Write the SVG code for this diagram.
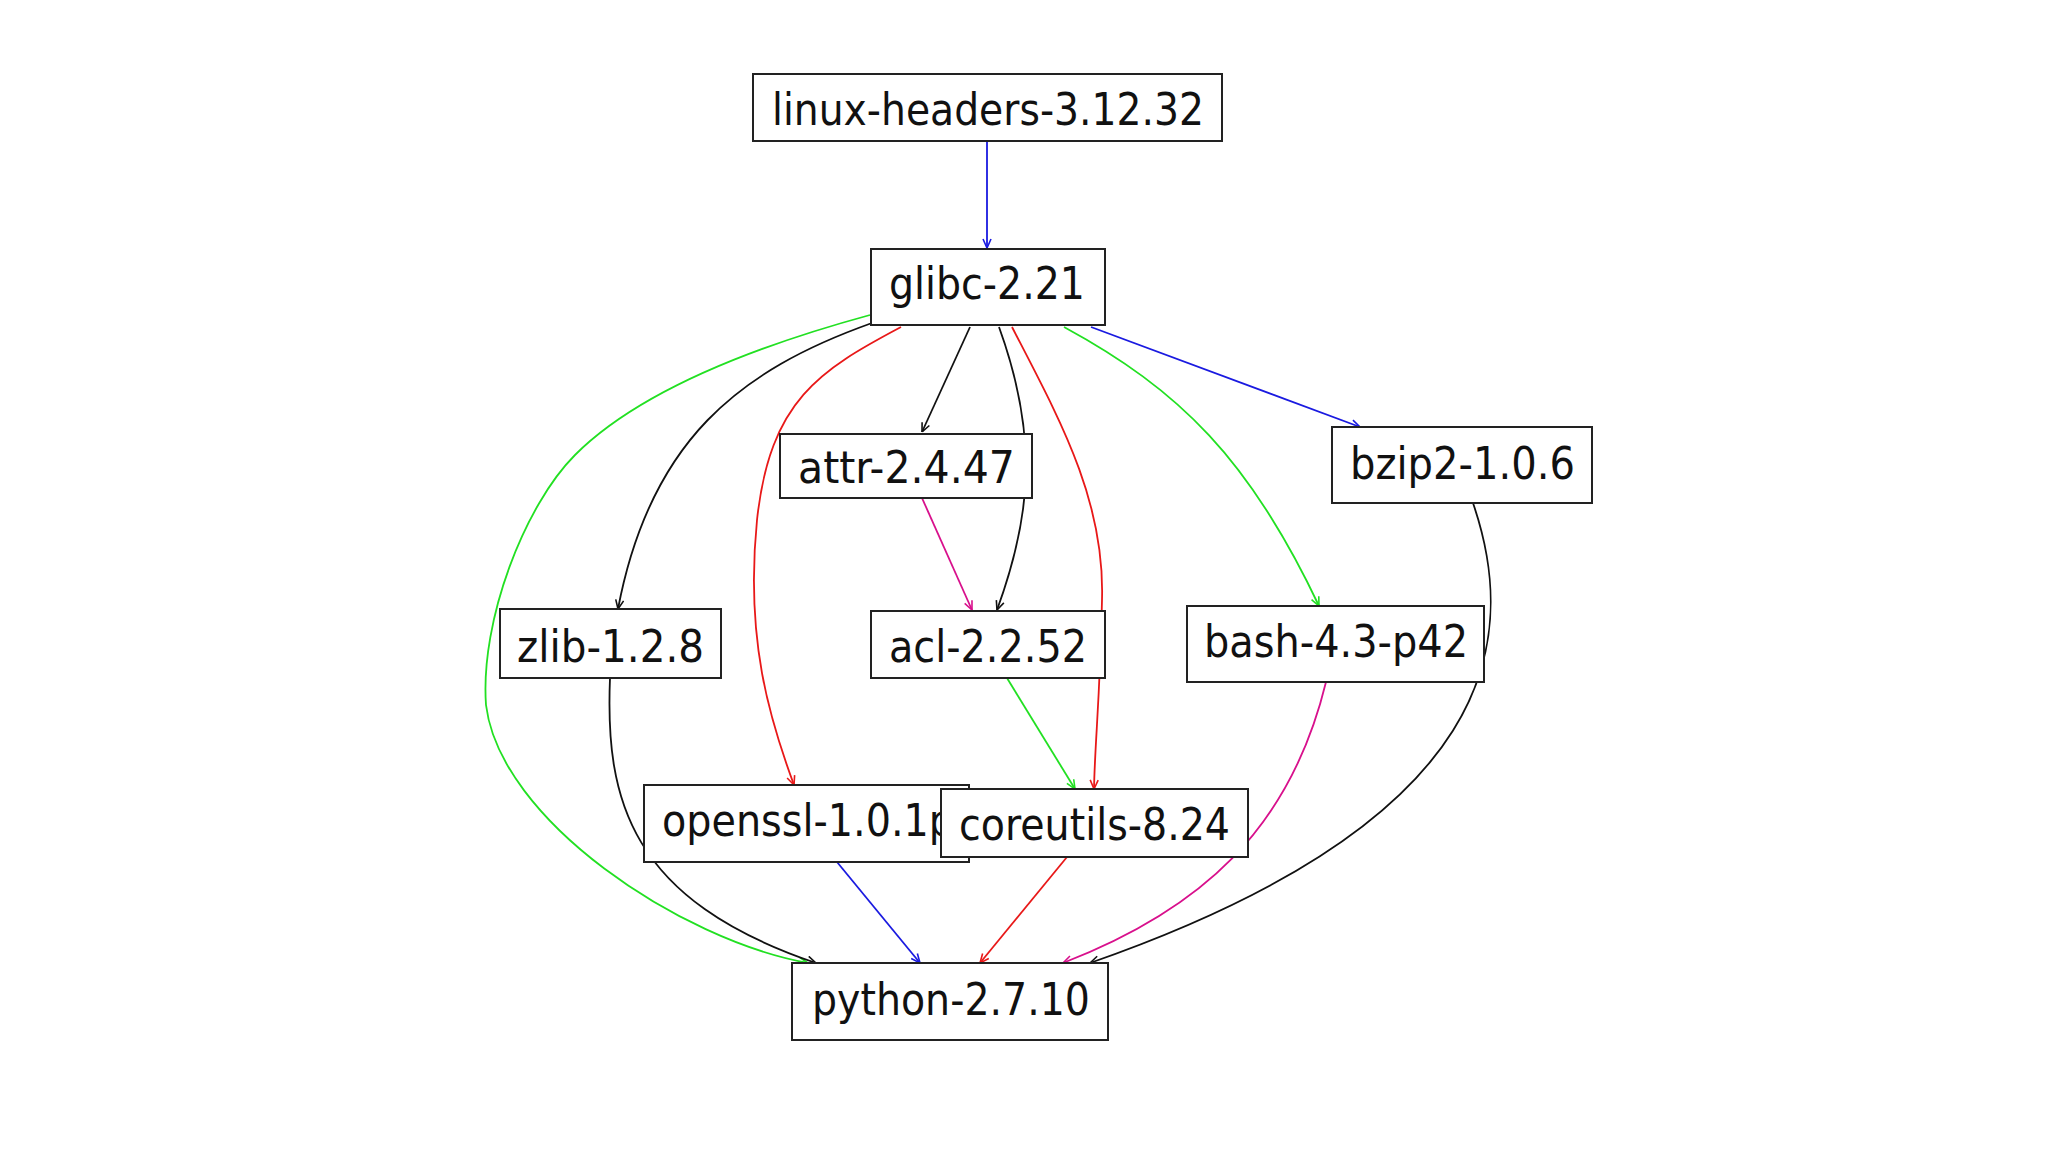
<svg xmlns="http://www.w3.org/2000/svg" width="2048" height="1152" viewBox="0 0 2048 1152">
<defs>
<style>
.n rect{fill:#fff;stroke:#222;stroke-width:2}
.n text{font-family:"DejaVu Sans","Liberation Sans",sans-serif;font-size:44px;fill:#111;text-anchor:start}
.e path{fill:none;stroke-width:1.8}
.k{stroke:#111}.b{stroke:#1a1ae0}.g{stroke:#22e022}.r{stroke:#e81818}.m{stroke:#d8108c}
</style>
<marker id="ak" viewBox="0 0 10 10" refX="10" refY="5" markerWidth="10" markerHeight="10" markerUnits="userSpaceOnUse" orient="auto"><path d="M1,1 L10,5 L1,9" fill="none" stroke="#111" stroke-width="1.6"/></marker>
<marker id="ab" viewBox="0 0 10 10" refX="10" refY="5" markerWidth="10" markerHeight="10" markerUnits="userSpaceOnUse" orient="auto"><path d="M1,1 L10,5 L1,9" fill="none" stroke="#1a1ae0" stroke-width="1.6"/></marker>
<marker id="ag" viewBox="0 0 10 10" refX="10" refY="5" markerWidth="10" markerHeight="10" markerUnits="userSpaceOnUse" orient="auto"><path d="M1,1 L10,5 L1,9" fill="none" stroke="#22e022" stroke-width="1.6"/></marker>
<marker id="ar" viewBox="0 0 10 10" refX="10" refY="5" markerWidth="10" markerHeight="10" markerUnits="userSpaceOnUse" orient="auto"><path d="M1,1 L10,5 L1,9" fill="none" stroke="#e81818" stroke-width="1.6"/></marker>
<marker id="am" viewBox="0 0 10 10" refX="10" refY="5" markerWidth="10" markerHeight="10" markerUnits="userSpaceOnUse" orient="auto"><path d="M1,1 L10,5 L1,9" fill="none" stroke="#d8108c" stroke-width="1.6"/></marker>
</defs>
<rect width="2048" height="1152" fill="#fff"/>
<g id="connectors" class="e">
<path class="b" marker-end="url(#ab)" d="M987,141 L987,248"/>
<path class="b" marker-end="url(#ab)" d="M1091,327 L1360,427"/>
<path class="k" marker-end="url(#ak)" d="M970,327 L922,432"/>
<path class="k" marker-end="url(#ak)" d="M999,327 C1040,440 1030,520 997,610"/>
<path class="k" marker-end="url(#ak)" d="M872,323 C740,370 650,440 618,609"/>
<path class="g" marker-end="url(#ag)" d="M870,315 C760,345 640,390 575,455 C525,505 480,620 486,705 C500,820 680,940 808,963"/>
<path class="r" marker-end="url(#ar)" d="M901,327 C820,370 770,400 757,520 C745,640 770,720 794,785"/>
<path class="r" marker-end="url(#ar)" d="M1012,327 C1060,420 1105,500 1102,600 C1100,700 1095,740 1094,789"/>
<path class="g" marker-end="url(#ag)" d="M1064,327 C1180,390 1250,460 1319,606"/>
<path class="m" marker-end="url(#am)" d="M922,498 L972,610"/>
<path class="g" marker-end="url(#ag)" d="M1007,678 L1075,789"/>
<path class="k" marker-end="url(#ak)" d="M610,678 C605,800 630,900 816,963"/>
<path class="b" marker-end="url(#ab)" d="M837,862 L920,963"/>
<path class="r" marker-end="url(#ar)" d="M1067,857 L980,963"/>
<path class="m" marker-end="url(#am)" d="M1326,682 C1290,830 1200,910 1063,963"/>
<path class="k" marker-end="url(#ak)" d="M1473,503 C1520,640 1500,820 1090,963"/>
</g>
<g id="linux-headers" class="n"><rect x="753" y="74" width="469" height="67"/><text x="772" y="125" textLength="432" lengthAdjust="spacingAndGlyphs">linux-headers-3.12.32</text></g>
<g id="glibc" class="n"><rect x="871" y="249" width="234" height="76"/><text x="889" y="299" textLength="196" lengthAdjust="spacingAndGlyphs">glibc-2.21</text></g>
<g id="attr" class="n"><rect x="780" y="434" width="252" height="64"/><text x="798" y="483" textLength="217" lengthAdjust="spacingAndGlyphs">attr-2.4.47</text></g>
<g id="bzip2" class="n"><rect x="1332" y="427" width="260" height="76"/><text x="1350" y="479" textLength="225" lengthAdjust="spacingAndGlyphs">bzip2-1.0.6</text></g>
<g id="zlib" class="n"><rect x="500" y="609" width="221" height="69"/><text x="517" y="662" textLength="187" lengthAdjust="spacingAndGlyphs">zlib-1.2.8</text></g>
<g id="acl" class="n"><rect x="871" y="611" width="234" height="67"/><text x="889" y="662" textLength="198" lengthAdjust="spacingAndGlyphs">acl-2.2.52</text></g>
<g id="bash" class="n"><rect x="1187" y="606" width="297" height="76"/><text x="1204" y="657" textLength="264" lengthAdjust="spacingAndGlyphs">bash-4.3-p42</text></g>
<g id="openssl" class="n"><rect x="644" y="785" width="325" height="77"/><text x="662" y="836" textLength="292" lengthAdjust="spacingAndGlyphs">openssl-1.0.1p</text></g>
<g id="coreutils" class="n"><rect x="941" y="789" width="307" height="68"/><text x="959" y="840" textLength="271" lengthAdjust="spacingAndGlyphs">coreutils-8.24</text></g>
<g id="python" class="n"><rect x="792" y="963" width="316" height="77"/><text x="812" y="1015" textLength="278" lengthAdjust="spacingAndGlyphs">python-2.7.10</text></g>
</svg>
